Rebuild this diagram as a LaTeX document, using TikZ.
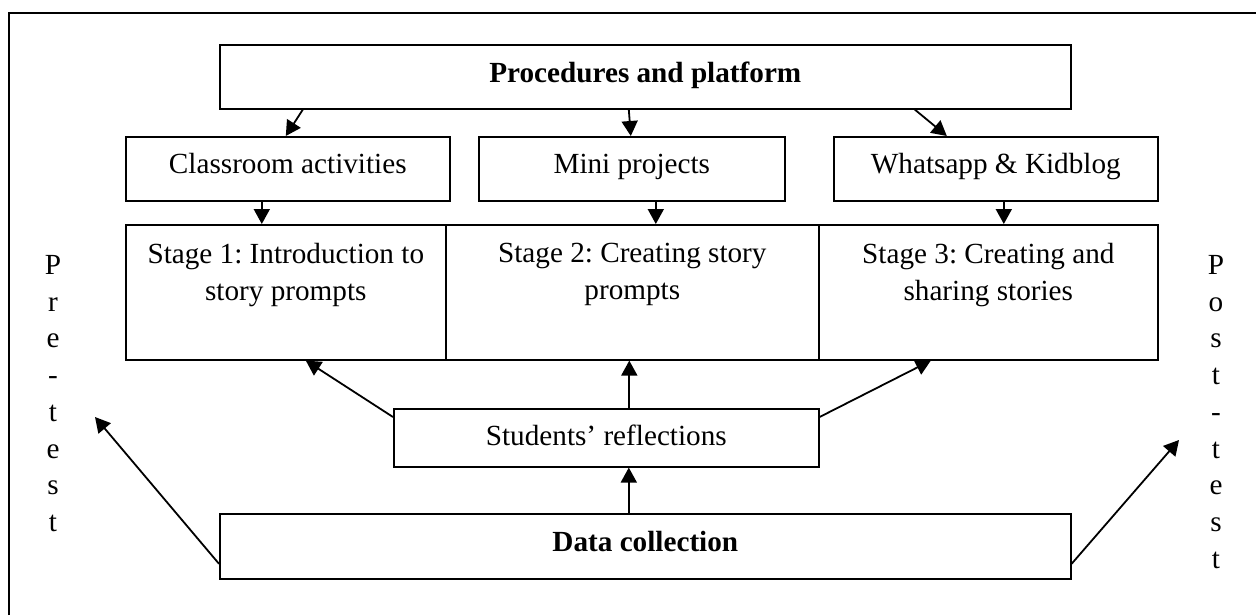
\documentclass[tikz,border=0pt]{standalone}
\usepackage{fontspec}
\setmainfont{Liberation Serif}
\usetikzlibrary{arrows.meta,calc}
\frenchspacing
\newcommand{\fsz}{\fontsize{14.6pt}{18.5pt}\selectfont}
\begin{document}
\begin{tikzpicture}[x=0.5pt,y=-0.5pt,
  box/.style={draw,line width=0.8pt,inner sep=0pt,anchor=north west,font=\fsz,
    text height=18.5pt,text depth=13.5pt},
  txt/.style={inner sep=0pt,font=\fsz,align=center},
  arr/.style={line width=0.9pt,-{Triangle[length=7.5pt,width=8pt]}}]
\useasboundingbox (0,0) rectangle (1256,615);
\draw[line width=0.8pt] (9,615) -- (9,13) -- (1256,13);
% boxes
\node[box,minimum width=425.5pt,minimum height=32pt,text height=19pt,text depth=13pt,font=\fsz\bfseries] (top) at (219,44) {Procedures and platform};
\node[box,minimum width=162pt,minimum height=32pt] (cls) at (125,136) {Classroom activities};
\node[box,minimum width=153pt,minimum height=32pt] (mini) at (478,136) {Mini projects};
\node[box,minimum width=162pt,minimum height=32pt] (wa) at (833,136) {Whatsapp \& Kidblog};
\node[box,minimum width=160pt,minimum height=67.5pt,text height=0pt,text depth=0pt] (s1) at (125,224) {};
\node[box,minimum width=186.5pt,minimum height=67.5pt,text height=0pt,text depth=0pt] (s2) at (445,224) {};
\node[box,minimum width=169.5pt,minimum height=67.5pt,text height=0pt,text depth=0pt] (s3) at (818,224) {};
\node[txt,anchor=north] (t1) at ($(s1.north)+(0,19)$) {Stage 1: Introduction to\\story prompts};
\node[txt,anchor=north] (t2) at ($(s2.north)+(0,19)$) {Stage 2: Creating story\\prompts};
\node[txt,anchor=north] (t3) at ($(s3.north)+(0,19)$) {Stage 3: Creating and\\sharing stories};
\node[box,minimum width=212.5pt,minimum height=29pt,text height=18.5pt,text depth=10.5pt] (sr) at (393,408) {Students' reflections};
\node[box,minimum width=425.5pt,minimum height=32.5pt,text height=19pt,text depth=13.5pt,font=\fsz\bfseries] (data) at (219,513) {Data collection};
% vertical words
\node[txt,anchor=north,font=\fontsize{14.6pt}{18.35pt}\selectfont] (pre) at (53,255) {P\\r\\e\\{-}\\t\\e\\s\\t};
\node[txt,anchor=north,font=\fontsize{14.6pt}{18.35pt}\selectfont] (post) at (1216,255) {P\\o\\s\\t\\{-}\\t\\e\\s\\t};
\coordinate (preend) at (95,417);
\coordinate (postend) at (1179,440);
% arrows
\draw[arr] ($(top.south)+(-342.5,0)$) -- ($(cls.north)+(-2,0)$);
\draw[arr] ($(top.south)+(-16.5,0)$) -- ($(mini.north)+(-1,0)$);
\draw[arr] ($(top.south)+(269.5,0)$) -- ($(wa.north)+(-49,0)$);
\draw[arr] ($(cls.south)+(-26,0)$) coordinate (c1) -- (c1 |- s1.north);
\draw[arr] ($(mini.south)+(24,0)$) coordinate (c2) -- (c2 |- s2.north);
\draw[arr] ($(wa.south)+(8,0)$) coordinate (c3) -- (c3 |- s3.north);
\draw[arr] ($(sr.north west)+(0,9)$) -- ($(s1.south)+(20,0)$);
\draw[arr] ($(sr.north)+(23,0)$) coordinate (c4) -- (c4 |- s2.south);
\draw[arr] ($(sr.north east)+(0,9)$) -- ($(s3.south)+(-57.5,0)$);
\draw[arr] ($(data.north)+(-16.5,0)$) coordinate (c5) -- (c5 |- sr.south);
\draw[arr] ($(data.west)+(0,17.5)$) -- (preend);
\draw[arr] ($(data.east)+(0,17.5)$) -- (postend);
\end{tikzpicture}
\end{document}
